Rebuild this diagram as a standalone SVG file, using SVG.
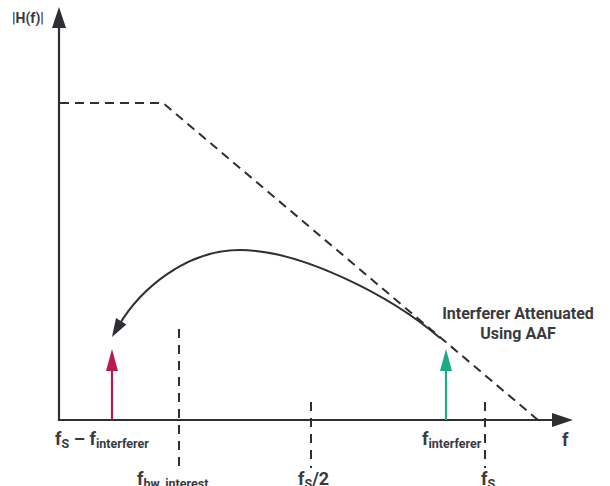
<svg xmlns="http://www.w3.org/2000/svg" width="610" height="486" viewBox="0 0 610 486">
<defs>
<style>
.ax{stroke:#2f2f33;stroke-width:2.2;fill:none}
.dash{stroke:#2f2f33;stroke-width:2;fill:none;stroke-dasharray:9,6}
.vd{stroke:#2f2f33;stroke-width:2;fill:none;stroke-dasharray:9,7}
.t{font-family:Roboto,"Liberation Sans",sans-serif;font-weight:bold;fill:#3a3a3e}
.big{font-size:18px}
.sub{font-size:12.5px}
.lbl{font-size:16px}
</style>
</defs>
<g id="axes">
<line class="ax" x1="59" y1="421" x2="59" y2="26"/>
<polygon points="59,7 52,28 66,28" fill="#2f2f33"/>
<line class="ax" x1="58" y1="420" x2="555" y2="420"/>
<polygon points="573,420 552,413 552,427" fill="#2f2f33"/>
</g>
<g id="filter">
<path class="dash" d="M60,103 L163,103 L538,420"/>
</g>
<g id="markers">
<line class="vd" x1="179" y1="329" x2="179" y2="468"/>
<line class="vd" x1="311" y1="402" x2="311" y2="468"/>
<line class="vd" x1="485" y1="402" x2="485" y2="468"/>
</g>
<g id="red-tone">
<line x1="112" y1="420" x2="112" y2="368" stroke="#b8194f" stroke-width="2.2"/>
<polygon points="112,349 106,371 118,371" fill="#b8194f"/>
</g>
<g id="green-tone">
<line x1="446" y1="420" x2="446" y2="368" stroke="#1daa85" stroke-width="2.2"/>
<polygon points="446,349 440,371 452,371" fill="#1daa85"/>
</g>
<g id="connectors">
<path d="M440,338 C390,295 300,250 240,250 C185,250 140,290 119,325" stroke="#2f2f33" stroke-width="2" fill="none"/>
<polygon points="112,337 116,318 126.4,324.6" fill="#2f2f33"/>
</g>
<g id="labels">
<text class="t" x="12" y="23" font-size="14">|H(f)|</text>
<text class="t lbl" x="518" y="319" text-anchor="middle">Interferer Attenuated</text>
<text class="t lbl" x="518" y="339" text-anchor="middle">Using AAF</text>
<text class="t" x="55" y="445"><tspan class="big">f</tspan><tspan class="sub" dy="3">S</tspan><tspan class="big" dy="-3"> – f</tspan><tspan class="sub" dy="3">interferer</tspan></text>
<text class="t" x="422" y="445"><tspan class="big">f</tspan><tspan class="sub" dy="3">interferer</tspan></text>
<text class="t" x="562" y="446" font-size="18">f</text>
<text class="t" x="137" y="485"><tspan class="big">f</tspan><tspan class="sub" dy="3">bw_interest</tspan></text>
<text class="t" x="298" y="485"><tspan class="big">f</tspan><tspan class="sub" dy="3">S</tspan><tspan class="big" dy="-3">/2</tspan></text>
<text class="t" x="481" y="485"><tspan class="big">f</tspan><tspan class="sub" dy="3">S</tspan></text>
</g>
</svg>
